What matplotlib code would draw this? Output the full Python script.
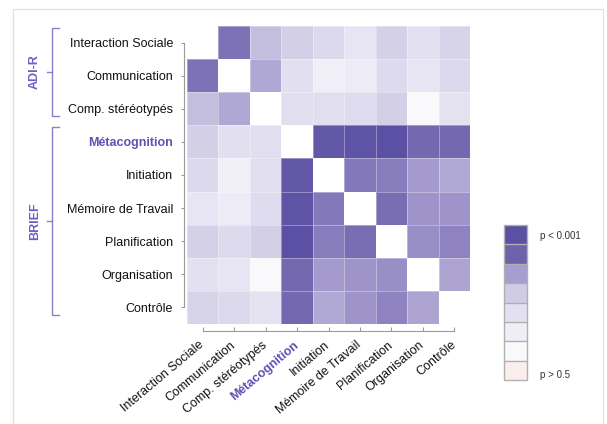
import numpy as np
import matplotlib.pyplot as plt
from matplotlib.colors import LinearSegmentedColormap, ListedColormap, LogNorm, BoundaryNorm
from matplotlib.cm import ScalarMappable
from matplotlib.lines import Line2D
from matplotlib.patches import Rectangle
from matplotlib.transforms import blended_transform_factory

plt.rcParams['font.family'] = ['Liberation Sans', 'DejaVu Sans']

# variables (rows and columns)
labels = ['Interaction Sociale', 'Communication', 'Comp. stéréotypés', 'Métacognition',
          'Initiation', 'Mémoire de Travail', 'Planification', 'Organisation', 'Contrôle']
highlight = 'Métacognition'

# groups of variables (first row, last row)
group_names = ['ADI-R', 'BRIEF']
group_rows = [(0, 2), (3, 8)]

# p-values, lower triangle (row i, columns 0..i-1)
p_lower = [
    [],
    [0.0031],
    [0.0108, 0.0073],
    [0.016, 0.033, 0.031],
    [0.025, 0.092, 0.031, 0.0015],
    [0.047, 0.071, 0.028, 0.00116, 0.0034],
    [0.017, 0.026, 0.016, 0.001, 0.0037, 0.0029],
    [0.034, 0.046, 0.21, 0.0027, 0.0057, 0.0052, 0.0048],
    [0.020, 0.025, 0.037, 0.0027, 0.0074, 0.0052, 0.0040, 0.0068],
]

# legend levels, from p < 0.001 (dark) to p > 0.5 (light)
legend_colors = ['#5b50a3', '#6e62ad', '#a79dcf', '#d0cce5',
                 '#e3e1f1', '#efeef7', '#f9f9fc', '#fbefee']
legend_labels = ['p < 0.001', 'p > 0.5']

n = len(labels)
pvals = np.full((n, n), np.nan)
for i, row in enumerate(p_lower):
    for j, p in enumerate(row):
        pvals[i, j] = p
        pvals[j, i] = p

cmap = LinearSegmentedColormap.from_list('pv', legend_colors)
cmap.set_bad('white')
norm = LogNorm(vmin=0.001, vmax=0.5)

W, H = 607, 424
fig = plt.figure(figsize=(W / 100, H / 100), dpi=100)

# light frame around the figure
fig.add_artist(Rectangle((13 / W, -0.05), 590 / W, 1 - 9 / H + 0.05, transform=fig.transFigure,
                         fill=False, edgecolor='#e2e2e2', lw=1))

ax = fig.add_axes([187 / W, 1 - 324 / H, 283 / W, 298 / H])
edges = np.arange(n + 1) - 0.5
ax.pcolormesh(edges, edges, np.ma.masked_invalid(pvals), cmap=cmap, norm=norm,
              edgecolors=(1, 1, 1, 0.35), linewidth=0.6)

spine_col = '#9a9a9a'
for s in ['top', 'right']:
    ax.spines[s].set_visible(False)
ax.spines['left'].set_position(('outward', 2.5))
ax.spines['bottom'].set_position(('outward', 5))
for s in ['left', 'bottom']:
    ax.spines[s].set_bounds(0, n - 1)
    ax.spines[s].set_color(spine_col)
    ax.spines[s].set_linewidth(0.8)

ax.set_xticks(range(n))
ax.set_yticks(range(n))
ax.set_xticklabels(labels, rotation=40, ha='right', va='center', rotation_mode='anchor')
ax.set_yticklabels(labels)
ax.set_xlim(-0.5, n - 0.5)
ax.set_ylim(n - 0.5, -0.5)
ax.tick_params(axis='y', direction='out', length=2.5, width=0.8, color=spine_col, pad=5,
               labelsize=9, labelcolor='#111111')
ax.tick_params(axis='x', direction='in', length=3, width=0.8, color=spine_col, pad=9,
               labelsize=9, labelcolor='#111111')
for t in ax.get_xticklabels() + ax.get_yticklabels():
    if t.get_text() == highlight:
        t.set_color('#5e52b3')
        t.set_fontweight('bold')

# group brackets on the left
tr = blended_transform_factory(fig.transFigure, ax.transData)
bx, bx2, bxm = 52 / W, 59 / W, 47 / W
for name, (r0, r1) in zip(group_names, group_rows):
    y0, y1 = r0 - 0.45, r1 + 0.22
    ym = (y0 + y1) / 2
    kw = dict(transform=tr, color='#8a7fc9', lw=1)
    fig.add_artist(Line2D([bx2, bx, bx, bx2], [y0, y0, y1, y1], **kw))
    fig.add_artist(Line2D([bxm, bx], [ym, ym], **kw))
    fig.text(35 / W, ym, name, transform=tr, rotation=90, ha='center', va='center',
             fontsize=9, fontweight='bold', color='#6b5fc2')

# legend as a discrete colour bar
cax = fig.add_axes([504 / W, 1 - 380 / H, 23 / W, 155 / H])
sm = ScalarMappable(norm=BoundaryNorm(np.arange(9), 8), cmap=ListedColormap(legend_colors[::-1]))
cb = fig.colorbar(sm, cax=cax, drawedges=True)
cb.outline.set_edgecolor('#b0b0b0')
cb.outline.set_linewidth(1)
cb.dividers.set_color('#b0b0b0')
cb.dividers.set_linewidth(1)
cb.set_ticks([0.3, 7.5])
cb.set_ticklabels(legend_labels[::-1])
cb.minorticks_off()
cax.tick_params(which='both', length=0, pad=9, labelsize=7, labelcolor='#333333')

fig.savefig('out.png', dpi=100)
